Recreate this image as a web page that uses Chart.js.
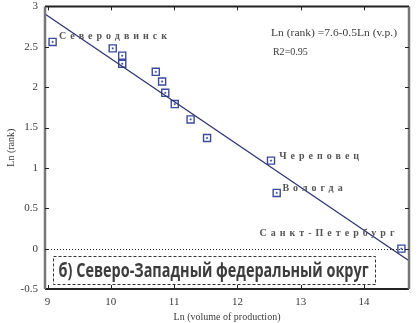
<!DOCTYPE html>
<html>
<head>
<meta charset="utf-8">
<script src="https://cdn.jsdelivr.net/npm/chart.js@4"></script>
<style>
  body { margin: 0; background: #fff; }
  canvas { display: block; }
</style>
</head>
<body>
<canvas id="rankChart" width="419" height="323"></canvas>
<script>
// Ln(volume of production) vs Ln(rank), Северо-Западный ФО
const lnVolume = [9.08, 10.03, 10.18, 10.18, 10.71, 10.81, 10.86, 11.01, 11.26, 11.52, 12.53, 12.62, 14.59];
const lnRank = [2.56, 2.48, 2.39, 2.29, 2.19, 2.07, 1.93, 1.79, 1.60, 1.37, 1.09, 0.69, 0.0];
const fitX = [8.96, 14.71];
const fitY = [2.905, -0.15];
const xTicks = [9, 10, 11, 12, 13, 14];
const yTicks = [-0.5, 0, 0.5, 1, 1.5, 2, 2.5, 3];
const cityNames = ["Северодвинск", "Череповец", "Вологда", "Санкт-Петербург"];
const cityLabelX = [9.18, 12.66, 12.71, 12.35];
const cityLabelY = [2.63, 1.14, 0.74, 0.19];
const equationText = ["Ln (rank) =7.6-0.5Ln (v.p.)", "R2=0.95"];
const regionTitle = "б) Северо-Западный федеральный округ";

const points = lnVolume.map((x, i) => ({ x: x, y: lnRank[i] }));
const fitLine = fitX.map((x, i) => ({ x: x, y: fitY[i] }));

const blue = "#3b4a9c";
const ink = "#3a3a3a";
const serif = "'Liberation Serif', 'DejaVu Serif', serif";

// draw text squeezed or stretched to a given width
function fitText(ctx, text, x, y, width) {
    const w = ctx.measureText(text).width;
    ctx.save();
    ctx.translate(x, y);
    ctx.scale(width / w, 1);
    ctx.fillText(text, 0, 0);
    ctx.restore();
}

const decorations = {
    id: "decorations",
    afterDatasetsDraw(chart) {
        const ctx = chart.ctx;
        const xs = chart.scales.x;
        const ys = chart.scales.y;
        const a = chart.chartArea;
        ctx.save();

        // zero line, dotted
        ctx.strokeStyle = "#222";
        ctx.lineWidth = 1;
        ctx.setLineDash([1, 2]);
        const y0 = Math.round(ys.getPixelForValue(0)) + 0.5;
        ctx.beginPath();
        ctx.moveTo(a.left, y0);
        ctx.lineTo(a.right, y0);
        ctx.stroke();

        // frame
        ctx.setLineDash([]);
        ctx.strokeStyle = "#222";
        ctx.lineWidth = 2;
        ctx.beginPath();
        ctx.moveTo(a.left, a.bottom);
        ctx.lineTo(a.right, a.bottom);
        ctx.moveTo(a.left, a.top);
        ctx.lineTo(a.right, a.top);
        ctx.stroke();
        ctx.strokeStyle = "#777";
        ctx.lineWidth = 2.5;
        ctx.beginPath();
        ctx.moveTo(a.left, a.top);
        ctx.lineTo(a.left, a.bottom);
        ctx.moveTo(a.right, a.top);
        ctx.lineTo(a.right, a.bottom);
        ctx.stroke();

        // inward ticks
        ctx.strokeStyle = "#222";
        ctx.lineWidth = 1;
        ctx.beginPath();
        xTicks.forEach(v => {
            const px = Math.round(xs.getPixelForValue(v)) + 0.5;
            ctx.moveTo(px, a.bottom);
            ctx.lineTo(px, a.bottom - 4);
            ctx.moveTo(px, a.top);
            ctx.lineTo(px, a.top + 4);
        });
        yTicks.forEach(v => {
            const py = Math.round(ys.getPixelForValue(v)) + 0.5;
            ctx.moveTo(a.left, py);
            ctx.lineTo(a.left + 4, py);
            ctx.moveTo(a.right, py);
            ctx.lineTo(a.right - 4, py);
        });
        ctx.stroke();

        // city labels, letter-spaced
        ctx.fillStyle = "#555";
        ctx.font = "bold 10px " + serif;
        ctx.textBaseline = "middle";
        ctx.letterSpacing = "4px";
        cityNames.forEach((name, i) => {
            ctx.fillText(name, xs.getPixelForValue(cityLabelX[i]), ys.getPixelForValue(cityLabelY[i]));
        });
        ctx.letterSpacing = "0px";

        // regression equation
        ctx.fillStyle = ink;
        ctx.font = "11px " + serif;
        fitText(ctx, equationText[0], xs.getPixelForValue(12.53), ys.getPixelForValue(2.67), 126);
        fitText(ctx, equationText[1], xs.getPixelForValue(12.56), ys.getPixelForValue(2.43), 35);

        // region caption in dashed box
        const bx1 = xs.getPixelForValue(9.08), bx2 = xs.getPixelForValue(14.17);
        const by1 = ys.getPixelForValue(-0.095), by2 = ys.getPixelForValue(-0.445);
        ctx.strokeStyle = "#333";
        ctx.lineWidth = 1;
        ctx.setLineDash([3, 2]);
        ctx.strokeRect(Math.round(bx1) + 0.5, Math.round(by1) + 0.5, Math.round(bx2 - bx1), Math.round(by2 - by1));
        ctx.setLineDash([]);
        ctx.fillStyle = "#3c3c3c";
        ctx.font = "bold 19px 'Open Sans', 'DejaVu Sans', sans-serif";
        fitText(ctx, regionTitle, bx1 + 6, (by1 + by2) / 2 + 1, 310);
        ctx.restore();
    }
};

const config = {
    type: "scatter",
    data: {
        datasets: [
            {
                type: "line",
                label: "fit",
                data: fitLine,
                borderColor: "#2b3470",
                borderWidth: 1.2,
                pointRadius: 0,
                fill: false,
            },
            {
                label: "cities",
                data: points,
                pointStyle: "rect",
                pointRadius: 5,
                borderColor: blue,
                backgroundColor: "rgba(255,255,255,0)",
                borderWidth: 1.4,
            },
            {
                label: "centres",
                data: points,
                pointStyle: "rect",
                pointRadius: 0.9,
                borderColor: blue,
                backgroundColor: blue,
                borderWidth: 0.5,
            },
        ],
    },
    options: {
        responsive: false,
        animation: false,
        layout: { padding: { top: 5, right: 10, left: 0, bottom: 0 } },
        plugins: {
            legend: { display: false },
            tooltip: { enabled: false },
        },
        scales: {
            x: {
                type: "linear",
                min: 8.96,
                max: 14.71,
                afterBuildTicks: s => { s.ticks = xTicks.map(v => ({ value: v })); },
                afterFit: s => { s.height = 34; s.paddingLeft = 0; s.paddingRight = 0; },
                grid: { display: false, drawTicks: false, tickLength: 0 },
                border: { display: false },
                ticks: { color: ink, font: { family: serif, size: 11 }, padding: 7, maxRotation: 0 },
                title: { display: true, text: "Ln (volume of production)", color: ink, font: { family: serif, size: 10 }, padding: { top: 2, bottom: 0 } },
            },
            y: {
                min: -0.5,
                max: 3,
                afterBuildTicks: s => { s.ticks = yTicks.map(v => ({ value: v })); },
                afterFit: s => { s.width = 45; s.paddingTop = 0; s.paddingBottom = 0; },
                grid: { display: false, drawTicks: false, tickLength: 0 },
                border: { display: false },
                ticks: { color: ink, font: { family: serif, size: 11 }, padding: 7, callback: v => String(v) },
                title: { display: true, text: "Ln (rank)", color: ink, font: { family: serif, size: 10 }, padding: { top: 5, bottom: 0 } },
            },
        },
    },
    plugins: [decorations],
};

new Chart(document.getElementById("rankChart"), config);
</script>
</body>
</html>
